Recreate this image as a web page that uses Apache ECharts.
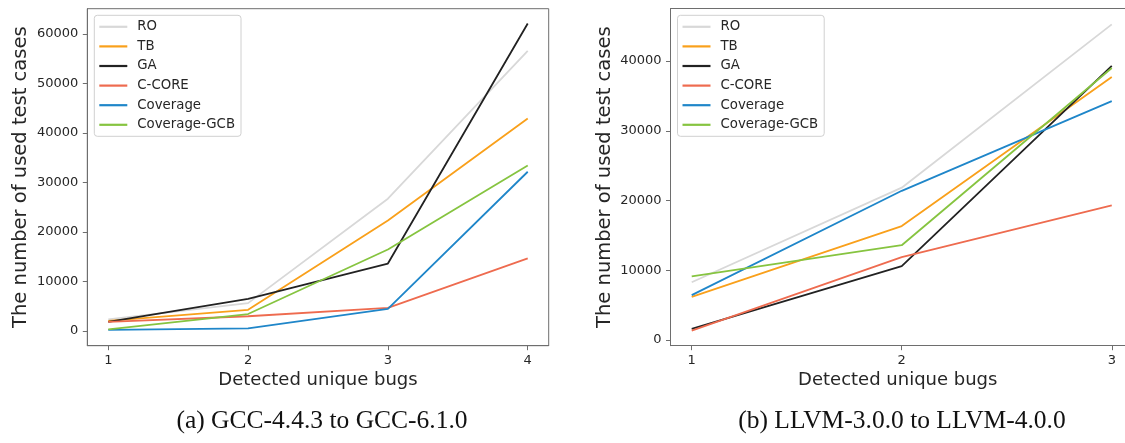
<!DOCTYPE html>
<html>
<head>
<meta charset="utf-8">
<script src="https://cdn.jsdelivr.net/npm/echarts@6/dist/echarts.min.js"></script>
<style>
  html, body { margin: 0; padding: 0; background: #fff; }
  #chart { width: 1125px; height: 443px; }
</style>
</head>
<body>
<div id="chart"></div>
<script>
// Number of used test cases needed to detect the first N unique bugs
const seriesNames = ['RO', 'TB', 'GA', 'C-CORE', 'Coverage', 'Coverage-GCB'];
const seriesColors = ['#d8d8d8', '#f9a01b', '#222222', '#ee6b4f', '#1f86c9', '#86c440'];

// (a) GCC-4.4.3 to GCC-6.1.0
const gccBugs = [1, 2, 3, 4];
const gccRO       = [2300, 5600, 26700, 56600];
const gccTB       = [2000, 4250, 22300, 42900];
const gccGA       = [1800, 6450, 13600, 62100];
const gccCCORE    = [1800, 2950, 4650, 14650];
const gccCoverage = [200, 500, 4450, 32150];
const gccCovGCB   = [300, 3400, 16450, 33400];

// (b) LLVM-3.0.0 to LLVM-4.0.0
const llvmBugs = [1, 2, 3];
const llvmRO       = [8300, 21850, 45250];
const llvmTB       = [6200, 16350, 37700];
const llvmGA       = [1600, 10600, 39300];
const llvmCCORE    = [1350, 11900, 19300];
const llvmCoverage = [6450, 21400, 34250];
const llvmCovGCB   = [9150, 13600, 39000];

const gccTicks = [0, 10000, 20000, 30000, 40000, 50000, 60000];
const llvmTicks = [0, 10000, 20000, 30000, 40000];

const captions = ['(a) GCC-4.4.3 to GCC-6.1.0', '(b) LLVM-3.0.0 to LLVM-4.0.0'];
const xTitle = 'Detected unique bugs';
const yTitle = 'The number of used test cases';

const gccData = [gccRO, gccTB, gccGA, gccCCORE, gccCoverage, gccCovGCB];
const llvmData = [llvmRO, llvmTB, llvmGA, llvmCCORE, llvmCoverage, llvmCovGCB];

const FONT = 'DejaVu Sans';
const TEXT = '#262626';
const FRAME = '#6e6e6e';

function pairs(xs, ys) {
  return xs.map((x, i) => [x, ys[i]]);
}

function makeXAxis(gridIndex, bugs, min, max) {
  return {
    type: 'value', gridIndex, min, max, position: 'bottom',
    name: xTitle, nameLocation: 'middle', nameGap: 26,
    nameTextStyle: { fontFamily: FONT, fontSize: 18, color: TEXT },
    axisLine: { show: true, onZero: false, lineStyle: { color: FRAME, width: 1 } },
    axisTick: { show: true, length: 4.5, customValues: bugs, lineStyle: { color: FRAME } },
    axisLabel: { customValues: bugs, margin: 8, fontFamily: FONT, fontSize: 13, color: TEXT,
                 formatter: v => String(v) },
    splitLine: { show: false }
  };
}

// plain top frame line for a panel
function makeTopFrame(gridIndex, min, max) {
  return {
    type: 'value', gridIndex, min, max, position: 'top',
    axisLine: { show: true, onZero: false, lineStyle: { color: FRAME, width: 1 } },
    axisTick: { show: false }, axisLabel: { show: false }, splitLine: { show: false }
  };
}

function makeYAxis(gridIndex, ticks, min, max) {
  return {
    type: 'value', gridIndex, min, max,
    name: yTitle, nameLocation: 'middle', nameGap: 56, nameRotate: 90,
    nameTextStyle: { fontFamily: FONT, fontSize: 19.5, color: TEXT },
    axisLine: { show: true, onZero: false, lineStyle: { color: FRAME, width: 1 } },
    axisTick: { show: true, length: 4.5, customValues: ticks, lineStyle: { color: FRAME } },
    axisLabel: { customValues: ticks, margin: 9, fontFamily: FONT, fontSize: 13, color: TEXT,
                 formatter: v => String(v) },
    splitLine: { show: false }
  };
}

function makeSeries(idx, bugs, data) {
  return seriesNames.map((name, i) => ({
    name, type: 'line', xAxisIndex: idx, yAxisIndex: idx,
    data: pairs(bugs, data[i]),
    symbol: 'none', silent: true, animation: false,
    lineStyle: { color: seriesColors[i], width: 1.8 },
    itemStyle: { color: seriesColors[i] }
  }));
}

function makeLegend(left) {
  return {
    orient: 'vertical', left, top: 15.3,
    data: seriesNames.map(n => ({ name: n, icon: 'rect' })),
    itemWidth: 28, itemHeight: 2.2, itemGap: 6.6,
    padding: [5, 6, 5, 5],
    backgroundColor: '#ffffff', borderColor: '#d0d0d0', borderWidth: 1, borderRadius: 3,
    textStyle: { fontFamily: FONT, fontSize: 13.3, color: TEXT, padding: [0, 0, 0, 5] },
    selectedMode: false
  };
}

// panel (b) runs past the right edge of the page, so its range is cut there
const gccMin = 0.85, gccMax = 4.15;
const llvmMin = 0.899, llvmMax = 3.063;

const chart = echarts.init(document.getElementById('chart'), null, { renderer: 'canvas' });

chart.setOption({
  backgroundColor: '#ffffff',
  animation: false,
  grid: [
    { left: 87.3, top: 8.7, width: 461.4, height: 337, show: true, borderColor: FRAME, borderWidth: 1 },
    { left: 670.5, top: 8.7, width: 454.5, height: 337, show: false }
  ],
  xAxis: [
    makeXAxis(0, gccBugs, gccMin, gccMax),
    makeXAxis(1, llvmBugs, llvmMin, llvmMax),
    makeTopFrame(1, llvmMin, llvmMax)
  ],
  yAxis: [makeYAxis(0, gccTicks, -3000, 65100), makeYAxis(1, llvmTicks, -800, 47500)],
  legend: [makeLegend(94.3), makeLegend(677.5)],
  series: [...makeSeries(0, gccBugs, gccData), ...makeSeries(1, llvmBugs, llvmData)],
  graphic: [
    { type: 'text', x: 322, y: 421, silent: true,
      style: { text: captions[0], fill: '#111', font: '25.5px "Liberation Serif"', align: 'center', verticalAlign: 'middle' } },
    { type: 'text', x: 902, y: 421, silent: true,
      style: { text: captions[1], fill: '#111', font: '25.5px "Liberation Serif"', align: 'center', verticalAlign: 'middle' } }
  ]
});
</script>
</body>
</html>
